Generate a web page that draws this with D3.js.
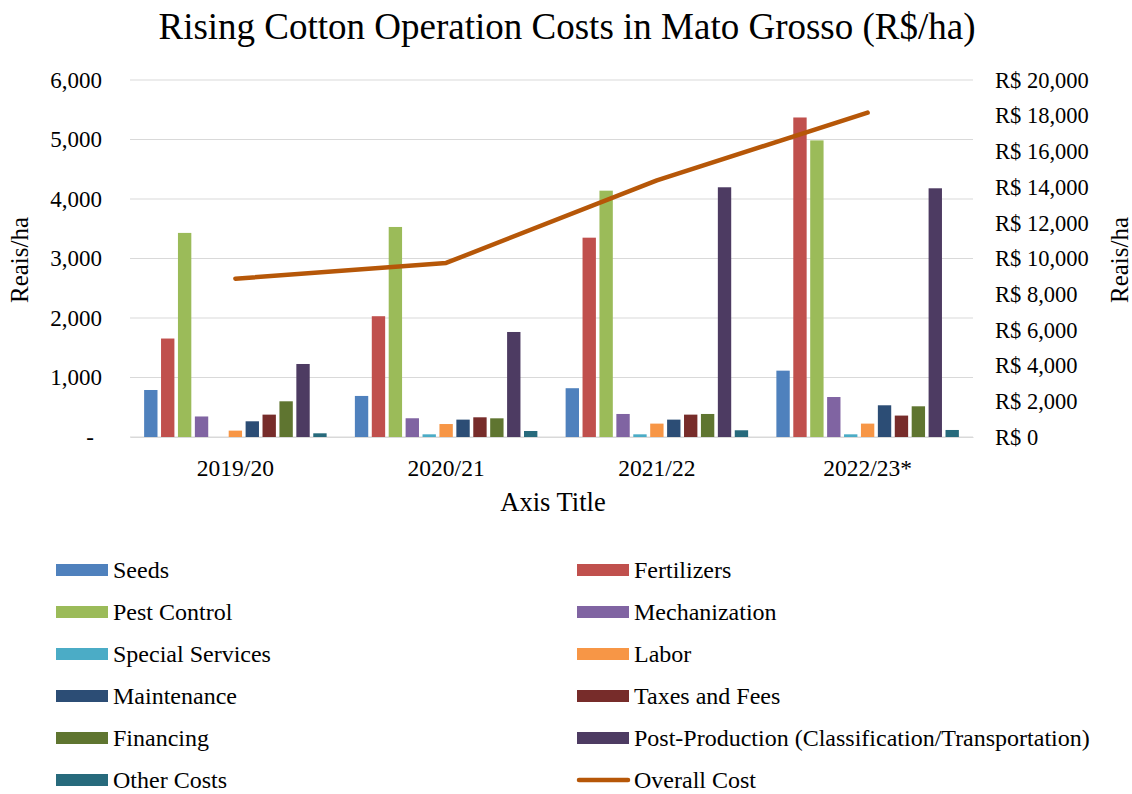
<!DOCTYPE html>
<html>
<head>
<meta charset="utf-8">
<script src="https://cdn.jsdelivr.net/npm/d3@7"></script>
<style>
  body { margin: 0; background: #fff; }
  svg { display: block; }
  svg text { font-family: "Liberation Serif", "Times New Roman", serif; fill: #000; }
</style>
</head>
<body>
<svg id="chart" width="1132" height="794"></svg>
<script>
const categories = ["2019/20", "2020/21", "2021/22", "2022/23*"];
const seriesNames = ["Seeds", "Fertilizers", "Pest Control", "Mechanization", "Special Services", "Labor",
  "Maintenance", "Taxes and Fees", "Financing", "Post-Production (Classification/Transportation)", "Other Costs"];
const seeds = [790, 690, 820, 1115];
const fertilizers = [1655, 2030, 3350, 5370];
const pestControl = [3430, 3530, 4140, 4985];
const mechanization = [345, 315, 387, 672];
const specialServices = [0, 45, 45, 45];
const labor = [107, 218, 225, 225];
const maintenance = [264, 292, 292, 533];
const taxesFees = [376, 331, 376, 360];
const financing = [600, 314, 387, 516];
const postProduction = [1227, 1765, 4197, 4180];
const otherCosts = [62, 101, 113, 118];
const overallCost = [8870, 9750, 14380, 18170];
const leftTicks = [0, 1000, 2000, 3000, 4000, 5000, 6000];
const rightTicks = [0, 2000, 4000, 6000, 8000, 10000, 12000, 14000, 16000, 18000, 20000];
const colors = ["#4F81BD", "#C0504D", "#9BBB59", "#8064A2", "#4BACC6", "#F79646",
  "#2C4D75", "#772C2A", "#5F7530", "#4D3B62", "#276A7C"];
const lineColor = "#B65708";

const seriesValues = [seeds, fertilizers, pestControl, mechanization, specialServices, labor,
  maintenance, taxesFees, financing, postProduction, otherCosts];

const FONT = "Liberation Serif, Times New Roman, serif";
const svg = d3.select("#chart");
const plot = { left: 130, right: 973, top: 80, bottom: 437 };

const x0 = d3.scaleBand().domain(categories).range([plot.left, plot.right]).paddingInner(0.118).paddingOuter(0.059);
const x1 = d3.scaleBand().domain(seriesNames).range([0, x0.bandwidth()]).paddingInner(0.21).paddingOuter(0.1);
const yL = d3.scaleLinear().domain([0, 6000]).range([plot.bottom, plot.top]);
const yR = d3.scaleLinear().domain([0, 20000]).range([plot.bottom, plot.top]);

// gridlines
svg.append("g").selectAll("line").data(leftTicks).join("line")
  .attr("x1", plot.left).attr("x2", plot.right)
  .attr("y1", d => yL(d)).attr("y2", d => yL(d))
  .attr("stroke", "#D9D9D9").attr("stroke-width", 1.2);

// left axis
const gL = svg.append("g").attr("transform", `translate(${plot.left},0)`)
  .call(d3.axisLeft(yL).tickValues(leftTicks).tickSize(0).tickPadding(28)
    .tickFormat(d => d === 0 ? "-" : d3.format(",")(d)));
gL.select(".domain").remove();
gL.selectAll("text").attr("font-size", 23).attr("fill", "#000").attr("font-family", FONT);
gL.selectAll(".tick").filter(d => d === 0).select("text").attr("dx", -8);

// right axis
const gR = svg.append("g").attr("transform", `translate(${plot.right},0)`)
  .call(d3.axisRight(yR).tickValues(rightTicks).tickSize(0).tickPadding(22)
    .tickFormat(d => "R$ " + d3.format(",")(d)));
gR.select(".domain").remove();
gR.selectAll("text").attr("font-size", 22.5).attr("fill", "#000").attr("font-family", FONT);

// x axis
const gX = svg.append("g").attr("transform", `translate(0,${plot.bottom})`)
  .call(d3.axisBottom(x0).tickSize(0).tickPadding(22));
gX.select(".domain").attr("stroke", "#D9D9D9").attr("stroke-width", 1.2);
gX.selectAll("text").attr("font-size", 23.5).attr("fill", "#000").attr("font-family", FONT);

// bars
const groups = svg.append("g").selectAll("g").data(categories).join("g")
  .attr("transform", d => `translate(${x0(d)},0)`);
groups.selectAll("rect").data((c, ci) => seriesNames.map((s, si) => ({ s, si, v: seriesValues[si][ci] })))
  .join("rect")
  .attr("x", d => x1(d.s))
  .attr("width", x1.bandwidth())
  .attr("y", d => yL(d.v))
  .attr("height", d => yL(0) - yL(d.v))
  .attr("fill", d => colors[d.si])
  .attr("display", d => d.v > 0 ? null : "none");

// line
const line = d3.line().x((d, i) => x0(categories[i]) + x0.bandwidth() / 2).y(d => yR(d));
svg.append("path").datum(overallCost).attr("d", line)
  .attr("fill", "none").attr("stroke", lineColor).attr("stroke-width", 4.5)
  .attr("stroke-linecap", "round").attr("stroke-linejoin", "round");

// title
svg.append("text").attr("x", 567).attr("y", 39).attr("text-anchor", "middle")
  .attr("font-family", FONT).attr("font-size", 37).text("Rising Cotton Operation Costs in Mato Grosso (R$/ha)");

// axis titles
svg.append("text").attr("transform", "translate(28,260) rotate(-90)").attr("text-anchor", "middle")
  .attr("font-family", FONT).attr("font-size", 25).text("Reais/ha");
svg.append("text").attr("transform", "translate(1128,260) rotate(-90)").attr("text-anchor", "middle")
  .attr("font-family", FONT).attr("font-size", 25).text("Reais/ha");
svg.append("text").attr("x", 553).attr("y", 511).attr("text-anchor", "middle")
  .attr("font-family", FONT).attr("font-size", 26.5).text("Axis Title");

// legend
const legendItems = seriesNames.map((s, i) => ({ name: s, color: colors[i], type: "bar" }))
  .concat([{ name: "Overall Cost", color: lineColor, type: "line" }]);
const leg = svg.append("g");
legendItems.forEach((d, i) => {
  const col = i % 2, row = Math.floor(i / 2);
  const sx = col === 0 ? 56 : 577;
  const cy = 570 + row * 42;
  const g = leg.append("g");
  if (d.type === "bar") {
    g.append("rect").attr("x", sx).attr("y", cy - 6).attr("width", 52).attr("height", 12).attr("fill", d.color);
  } else {
    g.append("line").attr("x1", sx + 2).attr("x2", sx + 51).attr("y1", cy).attr("y2", cy)
      .attr("stroke", d.color).attr("stroke-width", 4.5).attr("stroke-linecap", "round");
  }
  g.append("text").attr("x", sx + 57).attr("y", cy).attr("dy", "0.33em")
    .attr("font-family", FONT).attr("font-size", 24).text(d.name);
});
</script>
</body>
</html>
